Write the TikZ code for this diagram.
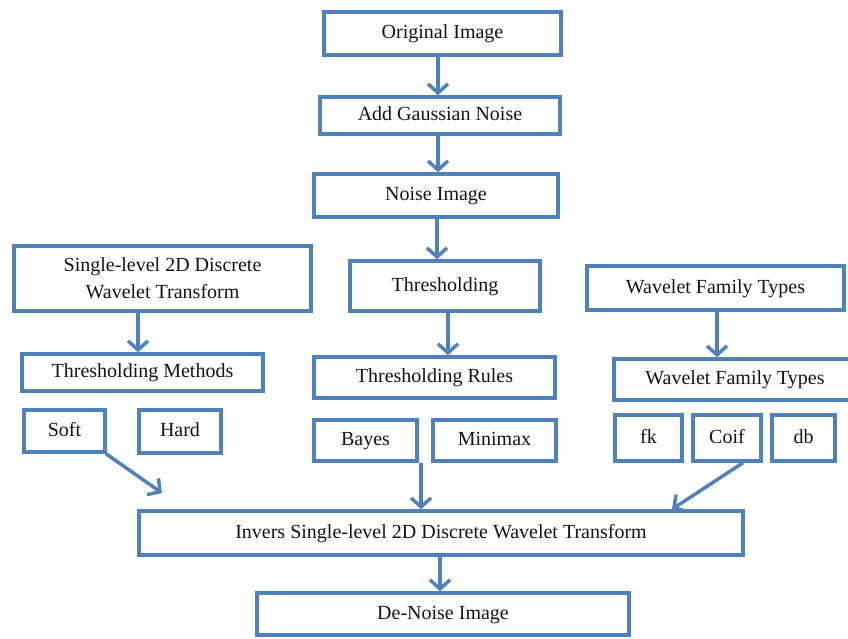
\documentclass[tikz,border=0pt]{standalone}
\usepackage{fontspec}
\setmainfont{Liberation Serif}
\usetikzlibrary{arrows.meta}
\definecolor{bblue}{RGB}{79,129,189}
\definecolor{txt}{RGB}{20,20,20}
\tikzset{
  boxbase/.style={draw=bblue, line width=3.5pt, fill=white, inner sep=0pt, text=txt,
    font=\fontsize{20}{27}\selectfont, align=center},
  box/.style={boxbase, text height=14pt, text depth=4pt},
  arr/.style={draw=bblue, line width=3.5pt, -{Straight Barb[length=9pt,width=20pt,line width=3.5pt]}},
}
\begin{document}
\begin{tikzpicture}[x=1pt,y=-1pt]
\useasboundingbox (0,0) rectangle (848,639);
\begin{scope}
\clip (0,0) rectangle (848,639);
\node[box, minimum width=237, minimum height=43] (orig) at (442.5,33.5) {Original Image};
\node[box, minimum width=240, minimum height=37] (gauss) at (440,115.5) {Add Gaussian Noise};
\node[box, minimum width=244, minimum height=43] (noise) at (436,195.5) {Noise Image};
\node[boxbase, minimum width=297, minimum height=65] (sdwt) at (162.5,278.5) {Single-level 2D Discrete\\Wavelet Transform};
\node[box, minimum width=190, minimum height=50] (thr) at (445,286) {Thresholding};
\node[box, minimum width=257, minimum height=44] (wft1) at (715.5,288) {Wavelet Family Types};
\node[box, minimum width=241, minimum height=37] (thm) at (142.5,372.5) {Thresholding Methods};
\node[box, minimum width=241, minimum height=41] (rules) at (434.5,377.5) {Thresholding Rules};
\node[box, minimum width=242, minimum height=41] (wft2) at (735,379.5) {Wavelet Family Types};
\node[box, minimum width=81, minimum height=42] (soft) at (64.5,431) {Soft};
\node[box, minimum width=82, minimum height=43] (hard) at (180,431.5) {Hard};
\node[box, minimum width=103, minimum height=41] (bayes) at (365.5,440.5) {Bayes};
\node[box, minimum width=123, minimum height=41] (minimax) at (494.5,440.5) {Minimax};
\node[box, minimum width=67, minimum height=46] (fk) at (648.5,438) {fk};
\node[box, minimum width=68, minimum height=46] (coif) at (727,438) {Coif};
\node[box, minimum width=63, minimum height=46] (db) at (803.5,438) {db};
\node[box, minimum width=604, minimum height=44] (inv) at (441,533) {Invers Single-level 2D Discrete Wavelet Transform};
\node[box, minimum width=372, minimum height=42] (denoise) at (443,614) {De-Noise Image};
\coordinate (softtip) at (162,493);

\draw[arr] (orig.south -| 438,0) -- (gauss.north -| 438,0);
\draw[arr] (gauss.south -| 438,0) -- (noise.north -| 438,0);
\draw[arr] (noise.south -| 437,0) -- (thr.north -| 437,0);
\draw[arr] (sdwt.south -| 138,0) -- (thm.north -| 138,0);
\draw[arr] (thr.south -| 448,0) -- (rules.north -| 448,0);
\draw[arr] (wft1.south -| 717,0) -- (wft2.north -| 717,0);
\draw[arr] (soft.south -| 106,0) -- (softtip);
\draw[arr] (bayes.south -| 421,0) -- (inv.north -| 421,0);
\draw[arr] (coif.south -| 743,0) -- (inv.north -| 672,0);
\draw[arr] (inv.south -| 440,0) -- (denoise.north -| 440,0);
\end{scope}
\end{tikzpicture}
\end{document}
